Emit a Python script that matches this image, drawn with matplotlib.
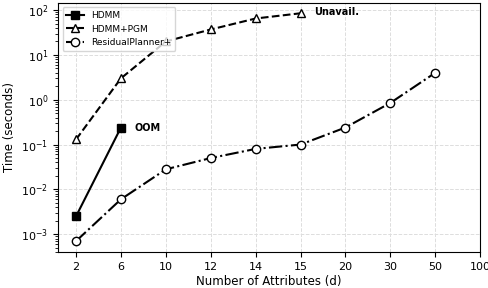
import numpy as np
import matplotlib.pyplot as plt

# categorical x axis: number of attributes
d_labels = ['2', '6', '10', '12', '14', '15', '20', '30', '50', '100']

hdmm_d = ['2', '6']
hdmm_t = [0.0025, 0.24]

pgm_d = ['2', '6', '10', '12', '14', '15']
pgm_t = [0.13, 3.0, 20.0, 37.0, 65.0, 85.0]

rp_d = ['2', '6', '10', '12', '14', '15', '20', '30', '50']
rp_t = [0.0007, 0.006, 0.028, 0.05, 0.08, 0.1, 0.24, 0.85, 4.0]

pos = {lab: i for i, lab in enumerate(d_labels)}

fig, ax = plt.subplots(figsize=(4.88, 2.88), dpi=100)

ax.plot([pos[d] for d in hdmm_d], hdmm_t, '-', color='black', marker='s',
        markersize=6, markerfacecolor='black', linewidth=1.5, label='HDMM')
ax.plot([pos[d] for d in pgm_d], pgm_t, '--', color='black', marker='^',
        markersize=6, markerfacecolor='white', linewidth=1.5, label='HDMM+PGM')
ax.plot([pos[d] for d in rp_d], rp_t, '-.', color='black', marker='o',
        markersize=6, markerfacecolor='white', linewidth=1.5, label='ResidualPlanner+')

ax.text(pos[hdmm_d[-1]] + 0.3, hdmm_t[-1], 'OOM', fontsize=7, fontweight='bold',
        va='center', ha='left')
ax.text(pos[pgm_d[-1]] + 0.3, pgm_t[-1] * 1.05, 'Unavail.', fontsize=7, fontweight='bold',
        va='center', ha='left')

ax.set_yscale('log')
ax.set_ylim(4e-4, 145)
ax.set_xlim(-0.4, 9)
ax.set_xticks(range(len(d_labels)))
ax.set_xticklabels(d_labels, fontsize=8)
ax.tick_params(axis='y', labelsize=8)
ax.set_xlabel('Number of Attributes (d)', fontsize=8.5, labelpad=2)
ax.set_ylabel('Time (seconds)', fontsize=8.5)
ax.grid(True, linestyle='--', color='#dddddd', linewidth=0.7)
ax.legend(loc='upper left', fontsize=6.5, framealpha=0.8)

fig.subplots_adjust(left=0.119, right=0.984, top=0.99, bottom=0.125)
fig.savefig('out.png', dpi=100)
